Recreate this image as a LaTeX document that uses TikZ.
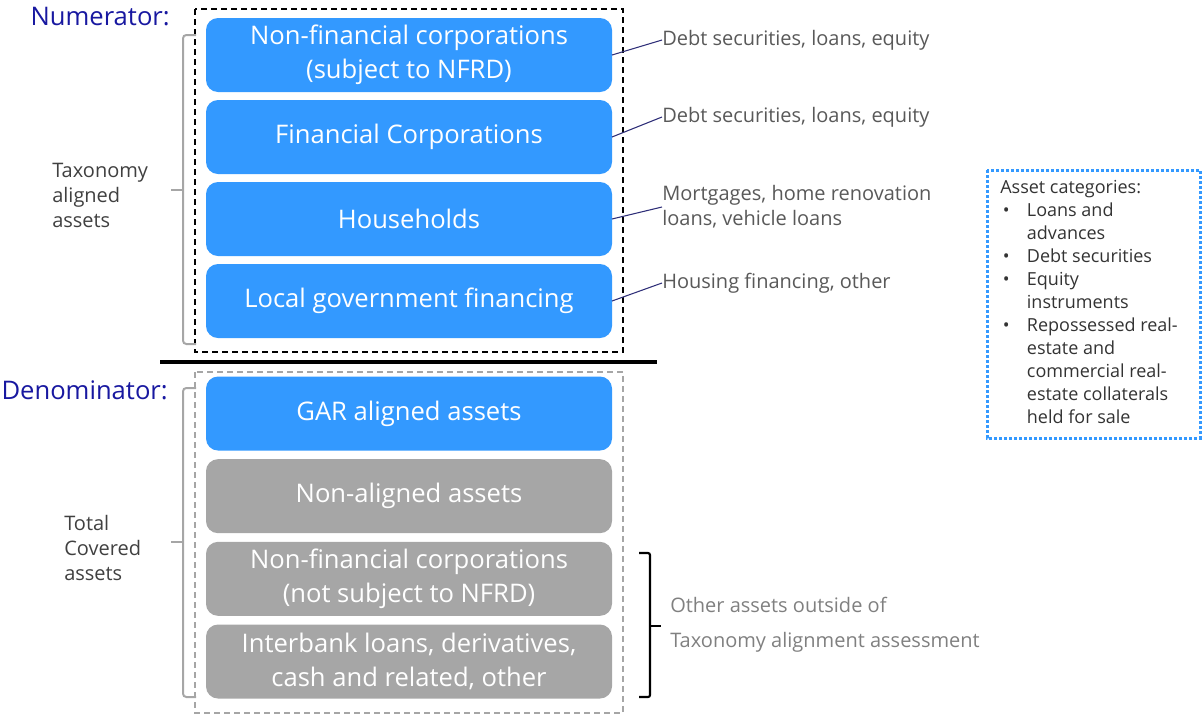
\documentclass[tikz,border=0pt]{standalone}
\usepackage{fontspec}
\setmainfont{Open Sans}
\usetikzlibrary{positioning}

\definecolor{boxblue}{RGB}{51,153,255}
\definecolor{boxgray}{RGB}{166,166,166}
\definecolor{titleblue}{RGB}{24,24,160}
\definecolor{leadnavy}{RGB}{46,46,120}
\definecolor{darktxt}{RGB}{64,64,64}
\definecolor{midtxt}{RGB}{89,89,89}
\definecolor{softtxt}{RGB}{128,128,128}
\definecolor{cattxt}{RGB}{51,51,51}

\newcommand{\catbul}{\makebox[20pt][l]{\hspace{2pt}\textbullet}}
\newcommand{\catind}{\hspace*{20pt}}

\tikzset{
    bluebox/.style={fill=boxblue, text=white, rounded corners=9pt, minimum width=304.5pt,
        minimum height=55.5pt, inner sep=0pt, outer sep=0pt, align=center,
        font=\fontsize{19.2}{25.5}\selectfont},
    graybox/.style={bluebox, fill=boxgray},
    title/.style={anchor=east, inner sep=0pt, text=titleblue, font=\fontsize{19.2}{24}\selectfont},
    sidetxt/.style={anchor=west, inner sep=0pt, align=left, text=darktxt, font=\fontsize{15}{18.75}\selectfont},
    annot/.style={anchor=west, inner sep=0pt, align=left, text=midtxt, font=\fontsize{15}{18.75}\selectfont},
    lead/.style={leadnavy, line width=0.8pt},
    brace/.style={boxgray, line width=1.5pt, rounded corners=2.5pt},
}

\begin{document}
\begin{tikzpicture}[x=0.75pt, y=-0.75pt]
    \useasboundingbox (0,0) rectangle (1203,715);

    \node [title] (num) at (170,17) {Numerator:};
    \node [title] (den) at (168,390) {Denominator:};

    \node [bluebox] (nfc) at (409,55) {Non-financial corporations\\(subject to NFRD)};
    \node [bluebox, below=6pt of nfc] (fc) {Financial Corporations};
    \node [bluebox, below=6pt of fc] (hh) {Households};
    \node [bluebox, below=6pt of hh] (lg) {Local government financing};

    \node [bluebox] (gar) at (409,413.5) {GAR aligned assets};
    \node [graybox, below=6.5pt of gar] (na) {Non-aligned assets};
    \node [graybox, below=6.5pt of na] (nfn) {Non-financial corporations\\(not subject to NFRD)};
    \node [graybox, below=6.5pt of nfn] (ib) {Interbank loans, derivatives,\\cash and related, other};

    \draw [black, line width=1.5pt, dash pattern=on 4.5pt off 3pt] (195,9) rectangle (623,352);
    \draw [boxgray, line width=1.2pt, dash pattern=on 4.5pt off 3pt] (195,372) rectangle (623,713);
    \draw [line width=3pt] (160,362) -- (657,362);

    \draw [brace] (196,35) -- (183,35) -- (183,344) -- (196,344);
    \draw [brace] (183,190) -- (171,190);
    \draw [brace] (196,388) -- (183,388) -- (183,697) -- (196,697);
    \draw [brace] (183,542) -- (171,542);
    \node [sidetxt] (tax) at (52,195) {Taxonomy\\aligned\\assets};
    \node [sidetxt] (tot) at (64,548) {Total\\Covered\\assets};

    \node [annot] (nfcnote) at (662,40) {Debt securities, loans, equity};
    \node [annot] (fcnote) at (662,117) {Debt securities, loans, equity};
    \node [annot] (hhnote) at (662,207) {Mortgages, home renovation\\loans, vehicle loans};
    \node [annot] (lgnote) at (662,283) {Housing financing, other};
    \draw [lead] (nfc.east) -- (nfcnote.west);
    \draw [lead] (fc.east) -- (fcnote.west);
    \draw [lead] (hh.east) -- (hhnote.west);
    \draw [lead] (lg.east) -- (lgnote.west);

    \draw [black, line width=1.6pt, rounded corners=1.5pt] (639,553) -- (650,553) -- (650,697) -- (639,697);
    \draw [black, line width=1.6pt] (650,626) -- (661,626);
    \node [annot, text=softtxt, font=\fontsize{15}{26.25}\selectfont] (other) at (670,625)
        {Other assets outside of\\Taxonomy alignment assessment};

    \draw [boxblue, line width=2.25pt, dash pattern=on 2.25pt off 1.5pt] (987,170) rectangle (1200,438);
    \node [anchor=north west, inner sep=0pt, align=left, text=cattxt,
        font=\fontsize{13.5}{17.25}\selectfont] (cats) at (1000,180)
        {Asset categories:\\
         \catbul Loans and\\
         \catind advances\\
         \catbul Debt securities\\
         \catbul Equity\\
         \catind instruments\\
         \catbul Repossessed real-\\
         \catind estate and\\
         \catind commercial real-\\
         \catind estate collaterals\\
         \catind held for sale};
\end{tikzpicture}
\end{document}
